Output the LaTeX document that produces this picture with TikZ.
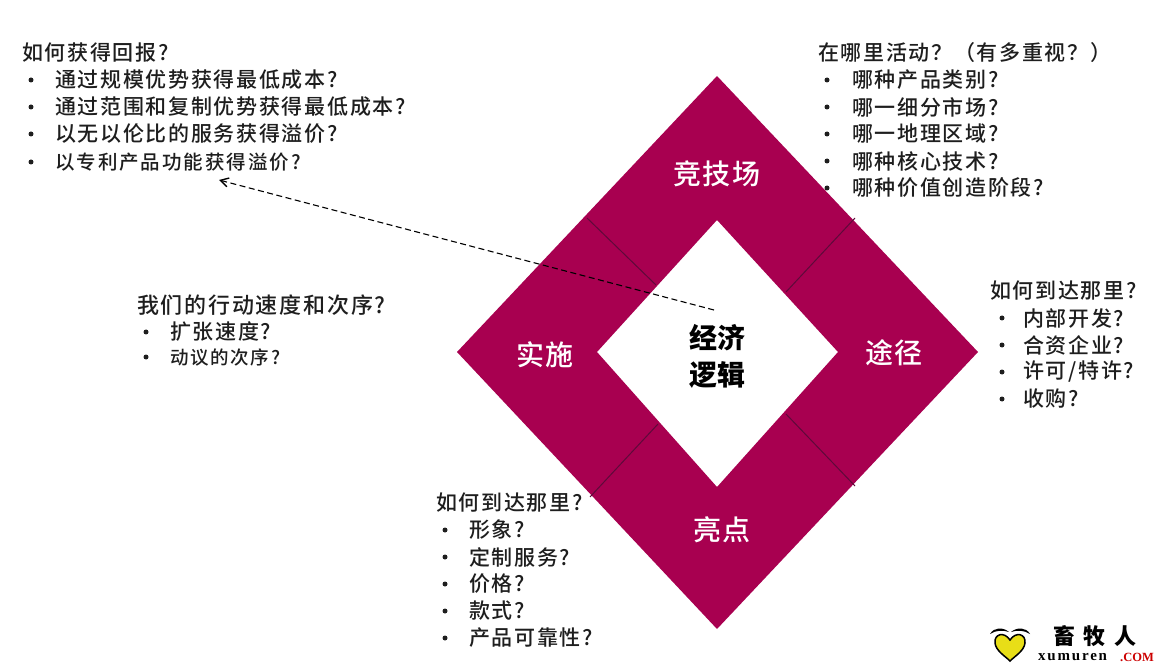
\documentclass[tikz,border=0pt]{standalone}
\usepackage{fontspec}
\setmainfont{Noto Sans CJK SC}
\newfontfamily\cjkmed{Noto Sans CJK SC Medium}
\newfontfamily\latinser{Liberation Serif}
\usetikzlibrary{arrows.meta}
\definecolor{ringcol}{HTML}{A80050}
\definecolor{divcol}{HTML}{5E0A3A}
\definecolor{txtcol}{HTML}{1E1E1E}
\tikzset{
  linetxt/.style={anchor=west,inner sep=0pt,text=txtcol,font=\cjkmed\fontsize{21}{24}\selectfont\addfontfeature{LetterSpace=8}},
  widetxt/.style={linetxt,font=\cjkmed\fontsize{22}{24}\selectfont\addfontfeature{LetterSpace=8}},
  smalltxt/.style={linetxt,font=\cjkmed\fontsize{19.5}{22}\selectfont\addfontfeature{LetterSpace=10}},
  tinytxt/.style={linetxt,font=\cjkmed\fontsize{18.5}{22}\selectfont\addfontfeature{LetterSpace=9}},
  bulletdot/.style={circle,fill=txtcol,inner sep=0pt,minimum size=5pt},
  ringlabel/.style={inner sep=0pt,text=white,font=\cjkmed\fontsize{28}{32}\selectfont\addfontfeature{LetterSpace=4}},
  corelabel/.style={inner sep=0pt,text=black,align=center,font=\fontsize{28}{37}\selectfont\bfseries},
  divider/.style={draw=divcol,line width=1pt},
  flow/.style={draw=black,line width=1.1pt,dash pattern=on 6pt off 3.5pt,-{Straight Barb[length=8pt,width=9pt,line width=1.4pt]}},
}
\newcommand{\bline}[6][linetxt]{%
  \node[bulletdot] (#2b) at (#3,#5) {};
  \node[#1] (#2) at (#4,#5) {#6};}
\begin{document}
\begin{tikzpicture}[x=1pt,y=-1pt]
\useasboundingbox (0,0) rectangle (1162,668);
% ring
\fill[ringcol,even odd rule]
  (717,76) -- (978,352) -- (717,629) -- (457,352) -- cycle
  (717,220) -- (838,352) -- (717,487) -- (597,352) -- cycle;
\coordinate (d1a) at (587,218); \coordinate (d1b) at (656,285);
\coordinate (d2a) at (855,218); \coordinate (d2b) at (786,292);
\coordinate (d3a) at (590,497); \coordinate (d3b) at (658,424);
\coordinate (d4a) at (855,486); \coordinate (d4b) at (786,414);
\draw[divider] (d1a) -- (d1b);
\draw[divider] (d2a) -- (d2b);
\draw[divider] (d3a) -- (d3b);
\draw[divider] (d4a) -- (d4b);
% ring labels
\node[ringlabel] (arena) at (717,174) {竞技场};
\node[ringlabel] (route) at (894,353) {途径};
\node[ringlabel] (impl) at (545,355) {实施};
\node[ringlabel] (diff) at (722,530) {亮点};
\node[corelabel] (core) at (717,356) {经济\\逻辑};
% arrow
\coordinate (flowstart) at (714,310);
\coordinate (flowend) at (219,180);
\draw[flow] (flowstart) -- (flowend);
% top-left block
\node[linetxt] (tl0) at (22,53) {如何获得回报?};
\bline{tl1}{31}{55}{80}{通过规模优势获得最低成本?}
\bline{tl2}{31}{55}{107}{通过范围和复制优势获得最低成本?}
\bline{tl3}{31}{55}{134}{以无以伦比的服务获得溢价?}
\bline[smalltxt]{tl4}{31}{55}{162}{以专利产品功能获得溢价?}
% top-right block
\node[linetxt] (tr0) at (818,53) {在哪里活动？（有多重视？）};
\bline{tr1}{827}{852}{80}{哪种产品类别?}
\bline{tr2}{827}{852}{107}{哪一细分市场?}
\bline{tr3}{827}{852}{134}{哪一地理区域?}
\bline{tr4}{827}{852}{161}{哪种核心技术?}
\bline{tr5}{827}{852}{188}{哪种价值创造阶段?}
% mid-left block
\node[widetxt] (ml0) at (137,305) {我们的行动速度和次序?};
\bline{ml1}{146}{170}{332}{扩张速度?}
\bline[tinytxt]{ml2}{146}{170}{357}{动议的次序?}
% right block
\node[linetxt] (rt0) at (990,291) {如何到达那里?};
\bline{rt1}{1002}{1023}{318}{内部开发?}
\bline{rt2}{1002}{1023}{345}{合资企业?}
\bline{rt3}{1002}{1023}{372}{许可/特许?}
\bline{rt4}{1002}{1023}{399}{收购?}
% bottom block
\node[linetxt] (bt0) at (436,503) {如何到达那里?};
\bline{bt1}{445}{469}{530}{形象?}
\bline{bt2}{445}{469}{557}{定制服务?}
\bline{bt3}{445}{469}{584}{价格?}
\bline{bt4}{445}{469}{611}{款式?}
\bline{bt5}{445}{469}{638}{产品可靠性?}
% watermark
\fill[black] (990,634) .. controls (994,627) and (1003,627) .. (1009,632)
  .. controls (1003,630) and (996,630) .. cycle;
\fill[black] (1030,634) .. controls (1026,627) and (1017,627) .. (1011,632)
  .. controls (1017,630) and (1024,630) .. cycle;
\filldraw[fill=yellow!90!black,draw=black,line width=1.5pt]
  (1010,640) .. controls (1004,631) and (994,634) .. (995,643)
  .. controls (996,651) and (1005,656) .. (1010,661)
  .. controls (1015,656) and (1024,651) .. (1025,643)
  .. controls (1026,634) and (1016,631) .. (1010,640) -- cycle;
\node[inner sep=0pt,text=black,font=\fontsize{22}{24}\selectfont\bfseries\addfontfeature{LetterSpace=40}] (wm1) at (1095,636) {畜牧人};
\node[anchor=west,inner sep=0pt,text=black,font=\fontsize{15}{16}\latinser\bfseries\selectfont\addfontfeature{LetterSpace=12}] (wm2) at (1038,657) {xumuren};
\node[anchor=west,inner sep=0pt,text=red!80!black,font=\fontsize{12.5}{14}\latinser\bfseries\selectfont] (wm3) at (1120,657) {.COM};
\end{tikzpicture}
\end{document}
